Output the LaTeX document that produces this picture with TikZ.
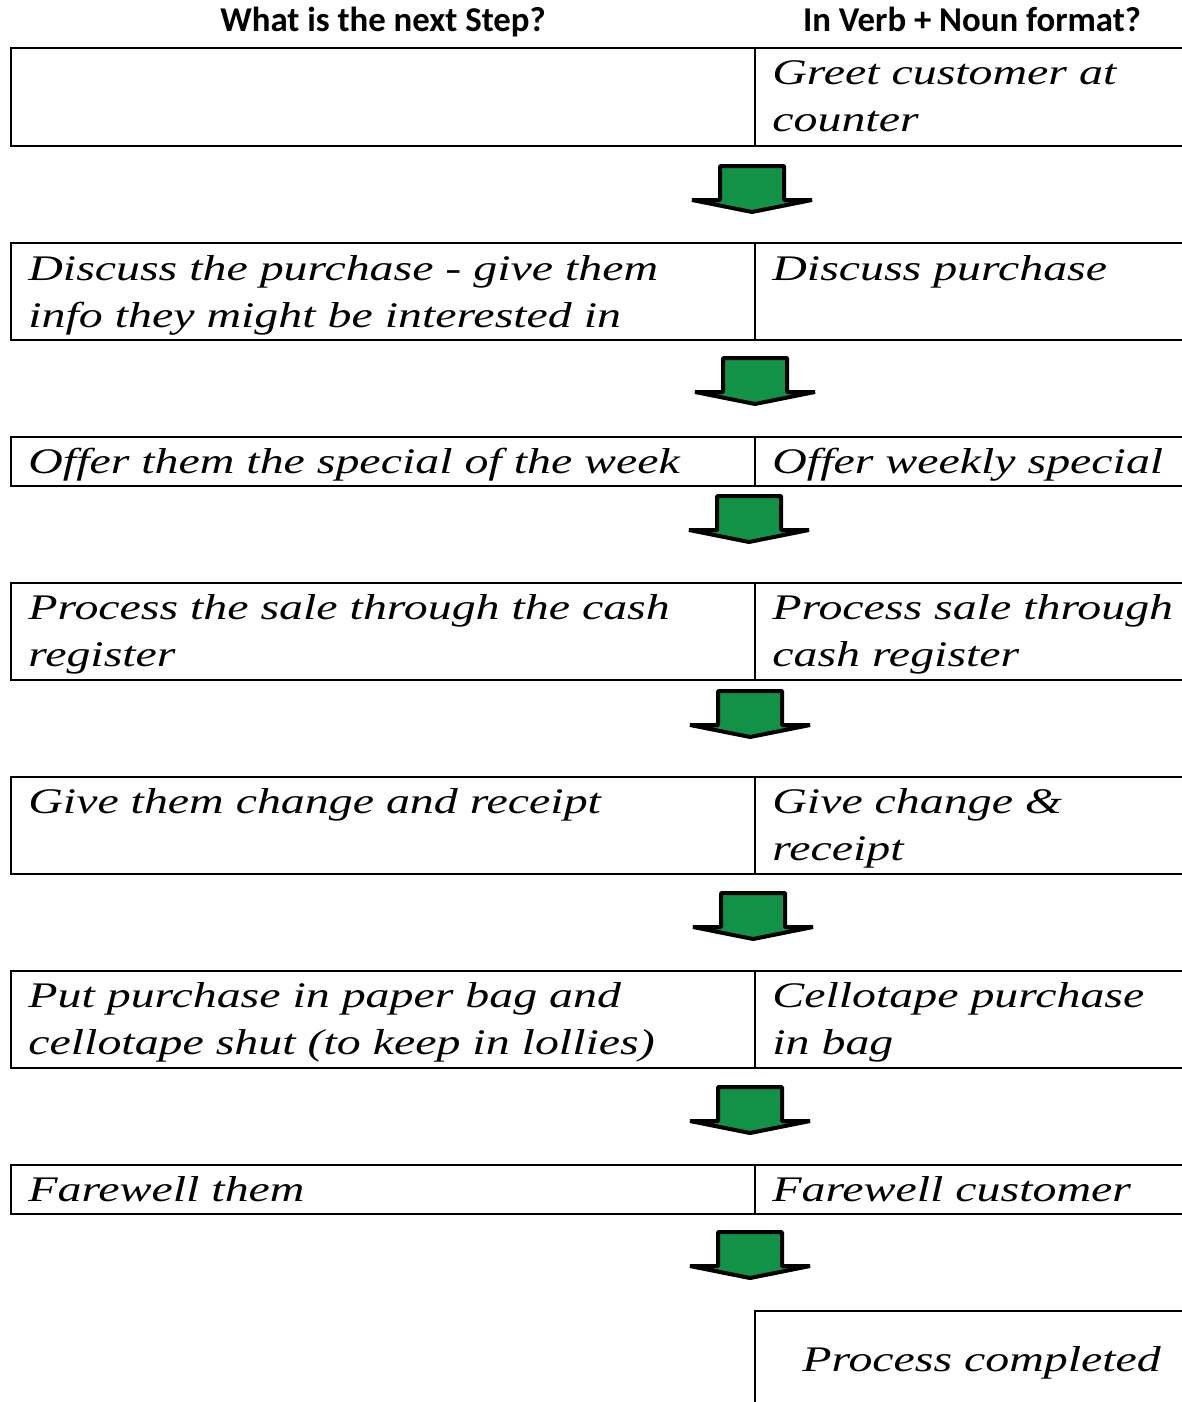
\documentclass[tikz,border=0pt]{standalone}
\usepackage{fontspec}
\setmainfont{Carlito}
\newfontfamily\handfont[FakeStretch=1.33]{Liberation Serif}
\definecolor{arrowgreen}{RGB}{18,146,70}

\tikzset{
  cell/.style={draw=black, line width=1pt},
  hand/.style={anchor=base west, align=left, inner sep=0pt,
    font=\handfont\itshape\fontsize{18}{23.5}\selectfont},
  head/.style={anchor=base, inner sep=0pt, font=\bfseries\fontsize{17.4}{20}\selectfont},
  greenarrow/.style={draw=black, line width=2pt, fill=arrowgreen, line join=bevel},
}

\begin{document}
\begin{tikzpicture}[x=0.5pt,y=-0.5pt]
\useasboundingbox (0,0) rectangle (1182,1402);
\clip (0,0) rectangle (1182,1402);

% column headings
\node[head] (hstep) at (383,32) {What is the next Step?};
\node[head] (hverb) at (972,32) {In Verb + Noun format?};

% table rows: top and bottom of each box
\foreach \top/\bot in {48/146, 243/340, 437/486, 583/680, 777/874, 971/1068, 1165/1214} {
  \draw[cell] (11,\top) rectangle (1195,\bot);
  \draw[cell] (755,\top) -- (755,\bot);
}

% last box, open at the bottom
\draw[cell] (755,1410) -- (755,1311) -- (1195,1311);

% arrows between the rows
\foreach \c/\t in {752/166, 755/358, 749/496, 750/691, 753/893, 750/1087, 750/1232} {
  \draw[greenarrow] (\c-32,\t) -- (\c+32,\t) -- (\c+32,\t+34) -- (\c+60,\t+34)
    -- (\c,\t+46) -- (\c-60,\t+34) -- (\c-32,\t+34) -- cycle;
}

% step texts (base = baseline of the last line)
\node[hand] (v1) at (772,132) {Greet customer at\\counter};

\node[hand] (s2) at (28,327) {Discuss the purchase - give them\\info they might be interested in};
\node[hand] (v2) at (772,280) {Discuss purchase};

\node[hand] (s3) at (28,473) {Offer them the special of the week};
\node[hand] (v3) at (772,473) {Offer weekly special};

\node[hand] (s4) at (28,666) {Process the sale through the cash\\register};
\node[hand] (v4) at (772,666) {Process sale through\\cash register};

\node[hand] (s5) at (28,813) {Give them change and receipt};
\node[hand] (v5) at (772,860) {Give change \&\\receipt};

\node[hand] (s6) at (28,1054) {Put purchase in paper bag and\\cellotape shut (to keep in lollies)};
\node[hand] (v6) at (772,1054) {Cellotape purchase\\in bag};

\node[hand] (s7) at (28,1201) {Farewell them};
\node[hand] (v7) at (772,1201) {Farewell customer};

\node[hand] (done) at (802,1371) {Process completed};

\end{tikzpicture}
\end{document}
